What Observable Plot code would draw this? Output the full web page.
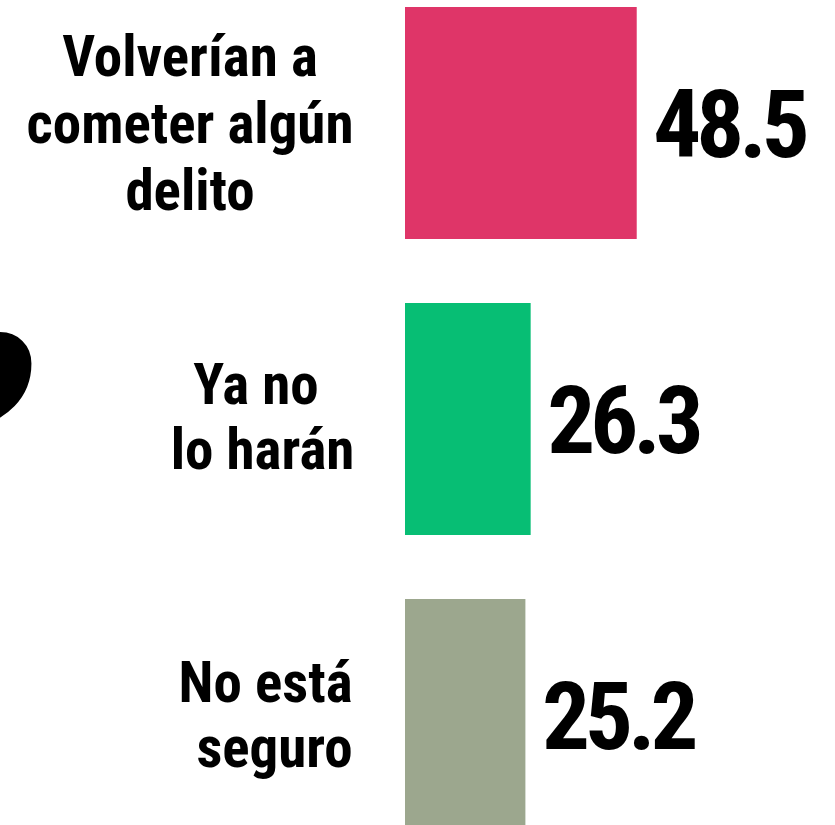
<!DOCTYPE html>
<html>
<head>
<meta charset="utf-8">
<script src="https://cdn.jsdelivr.net/npm/d3@7"></script>
<script src="https://cdn.jsdelivr.net/npm/@observablehq/plot@0.6"></script>
<style>
  html, body { margin: 0; padding: 0; background: #ffffff; overflow: hidden; }
  #chart svg { display: block; }
  #chart g[font-size="95"] text { letter-spacing: -5px; }
</style>
</head>
<body>
<div id="chart"></div>
<script>
// Data
const categories = ["Volverían a\ncometer algún\ndelito", "Ya no\u00a0\nlo harán", "No está\nseguro"];
const values = [48.5, 26.3, 25.2];
const colors = ["#DF3568", "#07BE74", "#9CA78E"];

const data = categories.map((c, i) => ({category: c, value: values[i], color: colors[i]}));

const FONT = "'Liberation Sans Narrow', 'Arial Narrow', 'Roboto Condensed', sans-serif";

const chart = Plot.plot({
  width: 835,
  height: 825,
  marginLeft: 405,
  marginRight: 0,
  marginTop: 0,
  marginBottom: 0,
  style: {background: "#ffffff"},
  x: {domain: [0, 90], range: [405, 835], axis: null},
  y: {domain: categories, range: [-57, 895], padding: 0.216, axis: null},
  marks: [
    Plot.barX(data, {x: "value", y: "category", fill: "color"}),
    Plot.text(data, {
      x: "value", y: "category", text: d => d.value.toFixed(1),
      textAnchor: "start", dx: 16, dy: 3,
      fontSize: 95, fontWeight: "bold", fontFamily: FONT, fill: "#000"
    }),
    // left labels
    Plot.text(data.slice(0, 1), {
      y: "category", text: "category", frameAnchor: "left",
      textAnchor: "middle", dx: -215.5, dy: -2, lineHeight: 1.17,
      fontSize: 57, fontWeight: "bold", fontFamily: FONT, fill: "#000"
    }),
    Plot.text(data.slice(1, 2), {
      y: "category", text: "category", frameAnchor: "left",
      textAnchor: "middle", dx: -143, dy: -4, lineHeight: 1.15,
      fontSize: 57, fontWeight: "bold", fontFamily: FONT, fill: "#000"
    }),
    Plot.text(data.slice(2, 3), {
      y: "category", text: "category", frameAnchor: "left",
      textAnchor: "end", dx: -53, dy: -2, lineHeight: 1.15,
      fontSize: 57, fontWeight: "bold", fontFamily: FONT, fill: "#000"
    }),
    // stray decorative comma at left edge (partly cut off, as in the reference)
    Plot.text([","], {
      text: d => d, frameAnchor: "left",
      textAnchor: "start", dx: -444, dy: -138,
      fontSize: 330, fontWeight: "bold", fontFamily: "'Liberation Serif', serif", fill: "#000"
    })
  ]
});

document.getElementById("chart").appendChild(chart);
</script>
</body>
</html>
